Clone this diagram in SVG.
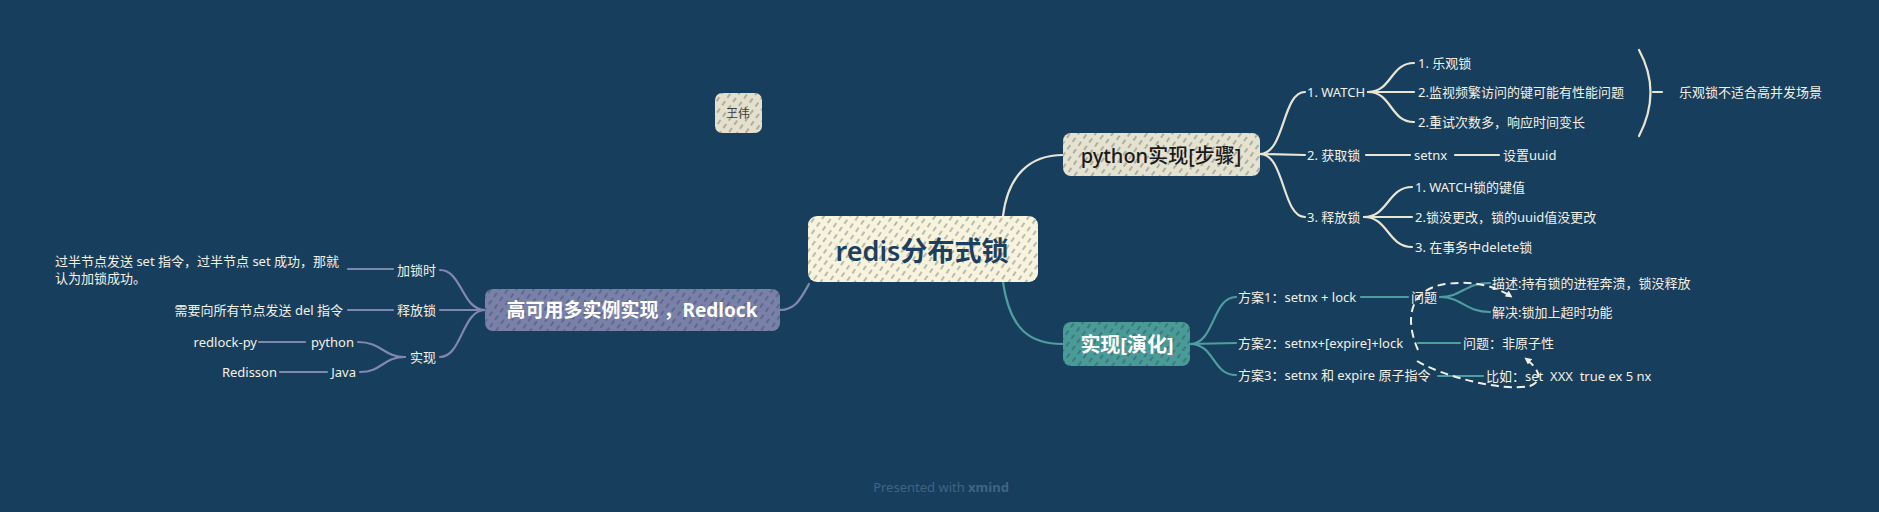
<svg xmlns="http://www.w3.org/2000/svg" width="1879" height="512" viewBox="0 0 1879 512">
<defs>
<pattern id="hatch" width="7" height="9" patternUnits="userSpaceOnUse" patternTransform="rotate(35)">
<line x1="1" y1="0" x2="1" y2="9" stroke="#10283d" stroke-opacity="0.55" stroke-width="1" stroke-dasharray="5 4"/>
</pattern>
<marker id="arr" viewBox="0 0 10 10" refX="9" refY="5" markerWidth="7" markerHeight="7" orient="auto" markerUnits="userSpaceOnUse">
<path d="M0,0 L10,5 L0,10 z" fill="#f2efe4"/>
</marker>
<style>
.t{font-family:"Noto Sans","Noto Sans CJK SC",sans-serif;font-size:13px;fill:#f3f0e4;dominant-baseline:central;white-space:pre}
.e{text-anchor:end}
.c{stroke:#e9e5d3;stroke-width:2.2;fill:none;stroke-linecap:round}
.g{stroke:#4f9e9f;stroke-width:2.2;fill:none;stroke-linecap:round}
.p{stroke:#8088b0;stroke-width:2.2;fill:none;stroke-linecap:round}
.d{stroke:#f2efe4;stroke-width:2;fill:none;stroke-dasharray:8 5}
.h{fill:url(#hatch)}
</style>
</defs>
<rect width="1879" height="512" fill="#183e5e"/>

<g id="connectors">
<path class="c" d="M1003,216 C1008,175 1030,155 1063,155"/>
<path class="g" d="M1003,282 C1010,330 1030,344 1063,344"/>
<path class="p" d="M809,284 C800,300 795,310 780,310"/>
<path class="c" d="M1260,154 C1285,154 1282,92 1305,92"/>
<path class="c" d="M1260,154 L1305,155"/>
<path class="c" d="M1260,154 C1285,154 1282,217 1305,217"/>
<path class="c" d="M1368,92 C1392,92 1390,63 1414,63"/>
<path class="c" d="M1368,92 L1414,92"/>
<path class="c" d="M1368,92 C1392,92 1390,122 1414,122"/>
<path class="c" d="M1366,155 L1410,155"/>
<path class="c" d="M1455,155 L1499,155"/>
<path class="c" d="M1364,217 C1388,217 1388,187 1412,187"/>
<path class="c" d="M1364,217 L1412,217"/>
<path class="c" d="M1364,217 C1388,217 1388,247 1412,247"/>
<path class="c" d="M1639,50 Q1662,92 1639,136"/>
<path class="c" d="M1653,92 L1662,92"/>
<path class="g" d="M1190,344 C1215,344 1212,297 1236,297"/>
<path class="g" d="M1190,344 L1236,343"/>
<path class="g" d="M1190,344 C1215,344 1212,375 1236,375"/>
<path class="g" d="M1361,297 L1408,297"/>
<path class="g" d="M1440,297 C1462,297 1465,283 1490,283"/>
<path class="g" d="M1440,297 C1462,297 1465,312 1490,312"/>
<path class="g" d="M1418,343 L1460,343"/>
<path class="g" d="M1438,376 L1483,376"/>
<path class="p" d="M485,310 C462,310 462,270 440,270"/>
<path class="p" d="M485,310 L440,310"/>
<path class="p" d="M485,310 C462,310 462,357 440,357"/>
<path class="p" d="M393,269 L348,269"/>
<path class="p" d="M393,310 L348,310"/>
<path class="p" d="M405,357 C383,357 382,342 358,342"/>
<path class="p" d="M405,357 C383,357 382,372 360,372"/>
<path class="p" d="M305,342 L259,342"/>
<path class="p" d="M327,372 L280,372"/>
<path class="d" d="M1418,350 C1405,320 1408,290 1445,284 C1475,280 1497,287 1512,297" marker-end="url(#arr)"/>
<path class="d" d="M1417,361 C1440,375 1500,392 1530,386 C1545,380 1538,368 1525,358" marker-end="url(#arr)"/>
</g>

<g id="root">
<rect x="808" y="216" width="230" height="66" rx="9" fill="#f7f3dc"/>
<rect x="808" y="216" width="230" height="66" rx="9" class="h"/>
<text x="922" y="250" class="t" style="font-size:27px;font-weight:600;fill:#1d3f5f;text-anchor:middle">redis分布式锁</text>
</g>

<g id="python-node">
<rect x="1063" y="133" width="197" height="43" rx="8" fill="#e6e2d0"/>
<rect x="1063" y="133" width="197" height="43" rx="8" class="h"/>
<text x="1161" y="155" class="t" style="font-size:20px;font-weight:500;fill:#1a1a1a;text-anchor:middle">python实现[步骤]</text>
</g>

<g id="evolve-node">
<rect x="1063" y="322" width="127" height="44" rx="8" fill="#4a9a98"/>
<rect x="1063" y="322" width="127" height="44" rx="8" class="h"/>
<text x="1127" y="344" class="t" style="font-size:20px;font-weight:700;fill:#ffffff;text-anchor:middle">实现[演化]</text>
</g>

<g id="redlock-node">
<rect x="485" y="289" width="295" height="42" rx="8" fill="#7a81a8"/>
<rect x="485" y="289" width="295" height="42" rx="8" class="h"/>
<text x="632" y="310" class="t" style="font-size:19px;font-weight:700;fill:#ffffff;text-anchor:middle">高可用多实例实现 ，Redlock</text>
</g>

<g id="author-node">
<rect x="715" y="93" width="47" height="40" rx="7" fill="#e5e0cc"/>
<rect x="715" y="93" width="47" height="40" rx="7" class="h"/>
<text x="738" y="113" class="t" style="font-size:12px;fill:#3a3f45;text-anchor:middle">王伟</text>
</g>

<g id="python-steps">
<text class="t" x="1307" y="92">1. WATCH</text>
<text class="t" x="1307" y="155">2. 获取锁</text>
<text class="t" x="1307" y="217">3. 释放锁</text>
<text class="t" x="1418" y="63">1. 乐观锁</text>
<text class="t" x="1418" y="92">2.监视频繁访问的键可能有性能问题</text>
<text class="t" x="1418" y="122">2.重试次数多，响应时间变长</text>
<text class="t" x="1679" y="92">乐观锁不适合高并发场景</text>
<text class="t" x="1414" y="155">setnx</text>
<text class="t" x="1503" y="155">设置uuid</text>
<text class="t" x="1415" y="187">1. WATCH锁的键值</text>
<text class="t" x="1415" y="217">2.锁没更改，锁的uuid值没更改</text>
<text class="t" x="1415" y="247">3. 在事务中delete锁</text>
</g>

<g id="evolve-steps">
<text class="t" x="1238" y="297">方案1：setnx + lock</text>
<text class="t" x="1238" y="343">方案2：setnx+[expire]+lock</text>
<text class="t" x="1238" y="375">方案3：setnx 和 expire 原子指令</text>
<text class="t" x="1411" y="297">问题</text>
<text class="t" x="1492" y="283">描述:持有锁的进程奔溃，锁没释放</text>
<text class="t" x="1492" y="312">解决:锁加上超时功能</text>
<text class="t" x="1463" y="343">问题：非原子性</text>
<text class="t" x="1486" y="376">比如：set  XXX  true ex 5 nx</text>
</g>

<g id="redlock-steps">
<text class="t e" x="436" y="270">加锁时</text>
<text class="t e" x="436" y="310">释放锁</text>
<text class="t e" x="436" y="357">实现</text>
<text class="t" x="55" y="261">过半节点发送 set 指令，过半节点 set 成功，那就</text>
<text class="t" x="55" y="278">认为加锁成功。</text>
<text class="t e" x="343" y="310">需要向所有节点发送 del 指令</text>
<text class="t e" x="354" y="342">python</text>
<text class="t e" x="356" y="372">Java</text>
<text class="t e" x="257" y="342">redlock-py</text>
<text class="t e" x="277" y="372">Redisson</text>
</g>

<text x="941" y="487" style="font-family:'Noto Sans',sans-serif;font-size:13px;fill:#3f6583;text-anchor:middle;dominant-baseline:central">Presented with <tspan font-weight="700">xmind</tspan></text>
</svg>
